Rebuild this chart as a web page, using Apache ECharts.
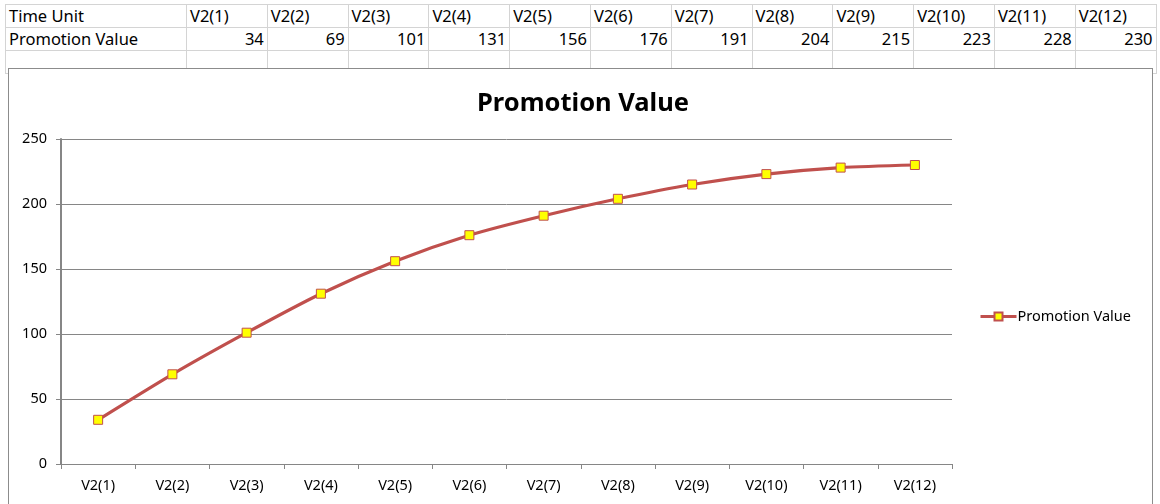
<!DOCTYPE html>
<html>
<head>
<meta charset="utf-8">
<script src="https://cdn.jsdelivr.net/npm/echarts@6/dist/echarts.min.js"></script>
<style>
  html, body { margin: 0; padding: 0; background: #fff; }
  body { width: 1160px; height: 504px; overflow: hidden; position: relative; font-family: 'Noto Sans', sans-serif; }
  #sheet { position: absolute; left: 5px; top: 4px; border-collapse: collapse; table-layout: fixed; }
  #sheet td {
    border: 1px solid #d4d4d4; height: 22px; padding: 0 3px; font-size: 16.5px; color: #000;
    white-space: nowrap; overflow: hidden; line-height: 22px;
  }
  #sheet td.num { text-align: right; }
  #box { position: absolute; left: 8px; top: 68px; width: 1143px; height: 460px; background: #fff; border: 1px solid #8c8c8c; }
  #chart { position: absolute; left: 0; top: 0; width: 1160px; height: 504px; }
</style>
</head>
<body>
<table id="sheet"></table>
<div id="box"></div>
<div id="chart"></div>
<script>
// data read from the sheet
const rowHeaders = ['Time Unit', 'Promotion Value']
const categories = ['V2(1)', 'V2(2)', 'V2(3)', 'V2(4)', 'V2(5)', 'V2(6)', 'V2(7)', 'V2(8)', 'V2(9)', 'V2(10)', 'V2(11)', 'V2(12)']
const promotionValues = [34, 69, 101, 131, 156, 176, 191, 204, 215, 223, 228, 230]
const yTicks = [0, 50, 100, 150, 200, 250]

const lineColor = '#c0504d'

// spreadsheet rows above the chart
function buildSheet() {
  const table = document.getElementById('sheet')
  const colgroup = document.createElement('colgroup')
  const first = document.createElement('col')
  first.style.width = '181px'
  colgroup.appendChild(first)
  categories.forEach(() => {
    const c = document.createElement('col')
    c.style.width = '80.8px'
    colgroup.appendChild(c)
  })
  table.appendChild(colgroup)

  const rows = [
    [rowHeaders[0]].concat(categories),
    [rowHeaders[1]].concat(promotionValues),
    [''].concat(categories.map(() => ''))
  ]
  rows.forEach((r, ri) => {
    const tr = document.createElement('tr')
    r.forEach((v, ci) => {
      const td = document.createElement('td')
      td.textContent = v
      if (ri === 1 && ci > 0) td.className = 'num'
      tr.appendChild(td)
    })
    table.appendChild(tr)
  })
}
buildSheet()

const chart = echarts.init(document.getElementById('chart'))
chart.setOption({
  textStyle: { fontFamily: 'Noto Sans, sans-serif' },
  title: {
    text: 'Promotion Value',
    left: 578,
    textAlign: 'center',
    top: 86,
    textStyle: { fontSize: 25.5, fontWeight: 'bold', color: '#000' }
  },
  legend: {
    data: ['Promotion Value'],
    left: 974,
    top: 304,
    itemWidth: 36,
    itemHeight: 10,
    itemGap: 2,
    lineStyle: { width: 3 },
    textStyle: { fontSize: 14.5, color: '#000', padding: [0, 0, 0, -4] }
  },
  grid: { left: 61, right: 208, top: 139, bottom: 40 },
  xAxis: {
    type: 'category',
    data: categories,
    boundaryGap: true,
    axisLine: { lineStyle: { color: '#868686', width: 1 } },
    axisTick: { show: true, length: 5, lineStyle: { color: '#868686' } },
    axisLabel: { color: '#000', fontSize: 14.5, margin: 14 }
  },
  yAxis: {
    type: 'value',
    min: yTicks[0],
    max: yTicks[yTicks.length - 1],
    interval: 50,
    axisLine: { show: true, lineStyle: { color: '#868686', width: 2 } },
    axisTick: { show: true, length: 5, lineStyle: { color: '#868686' } },
    axisLabel: { color: '#000', fontSize: 14.5, margin: 14 },
    splitLine: { show: true, lineStyle: { color: '#868686', width: 1 } }
  },
  series: [
    {
      name: 'Promotion Value',
      type: 'line',
      data: promotionValues,
      smooth: 0.25,
      symbol: 'rect',
      symbolSize: 9,
      lineStyle: { color: lineColor, width: 3.2 },
      itemStyle: { color: '#ffff00', borderColor: lineColor, borderWidth: 1 },
      emphasis: { disabled: true }
    }
  ],
  animation: false
})
</script>
</body>
</html>
